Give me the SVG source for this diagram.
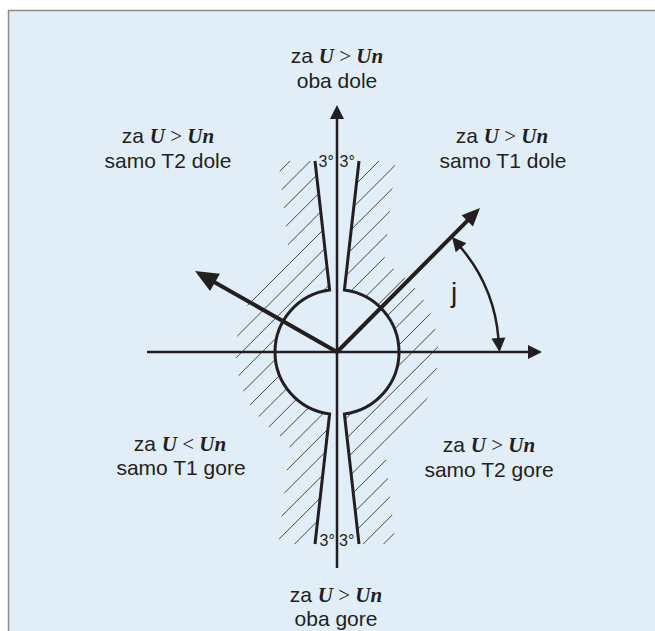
<svg xmlns="http://www.w3.org/2000/svg" width="655" height="631" viewBox="0 0 655 631">
<style>
.t{font-family:"Liberation Sans",Arial,sans-serif;font-size:21px;fill:#231f20;text-anchor:middle}
.u{font-family:"Liberation Serif","Times New Roman",serif;font-weight:bold;font-style:italic}
.s{font-family:"Liberation Serif","Times New Roman",serif}
.deg{font-family:"Liberation Sans",Arial,sans-serif;font-size:16px;fill:#231f20}
.axis{stroke:#231f20;stroke-width:2.5;fill:none}
.vec{stroke:#231f20;stroke-width:4;fill:none}
.key{stroke:#231f20;stroke-width:3;fill:none;stroke-linejoin:miter}
.hatch line{stroke:#333;stroke-width:0.9}
</style>
<defs>
<marker id="head" markerUnits="userSpaceOnUse" orient="auto" refX="0" refY="0" markerWidth="20" markerHeight="20" overflow="visible"><path d="M-1,-7 L13,0 L-1,7 Z" fill="#231f20"/></marker>
<marker id="headS" markerUnits="userSpaceOnUse" orient="auto-start-reverse" refX="0" refY="0" markerWidth="20" markerHeight="20" overflow="visible"><path d="M-1,-7 L13,0 L-1,7 Z" fill="#231f20"/></marker>
<marker id="vecL" markerUnits="userSpaceOnUse" orient="auto" refX="0" refY="0" markerWidth="30" markerHeight="30" overflow="visible"><path d="M-1,-10 L22,0 L-1,10 Z" fill="#231f20"/></marker>
<marker id="vecR" markerUnits="userSpaceOnUse" orient="auto" refX="0" refY="0" markerWidth="30" markerHeight="30" overflow="visible"><path d="M-1,-8 L17,0 L-1,8 Z" fill="#231f20"/></marker>
<clipPath id="hatchArea"><path clip-rule="evenodd" d="M278.5,161 L290,263 A101,101 0 0 0 290,442 L278.5,544 L395.5,544 L384,442 A101,101 0 0 0 384,263 L395.5,161 Z M315,161 L329.6,290 A62.5,62.5 0 0 0 329.6,414 L315,544 L359,544 L344.4,414 A62.5,62.5 0 0 0 344.4,290 L359,161 Z"/></clipPath>
<clipPath id="halfL"><rect x="0" y="0" width="337" height="631"/></clipPath>
<clipPath id="halfR"><rect x="337" y="0" width="318" height="631"/></clipPath>
</defs>
<rect x="0" y="0" width="655" height="631" fill="#ffffff"/>
<rect x="8.5" y="10.5" width="660" height="640" fill="#e1eef7" stroke="#8c8c8c" stroke-width="1.5"/>

<g id="hatching" class="hatch">
<g clip-path="url(#halfL)"><g clip-path="url(#hatchArea)">
<line x1="351" y1="100" x2="-149" y2="600"/>
<line x1="371.4" y1="100" x2="-128.6" y2="600"/>
<line x1="391.8" y1="100" x2="-108.2" y2="600"/>
<line x1="412.2" y1="100" x2="-87.8" y2="600"/>
<line x1="432.6" y1="100" x2="-67.4" y2="600"/>
<line x1="453" y1="100" x2="-47" y2="600"/>
<line x1="473.4" y1="100" x2="-26.6" y2="600"/>
<line x1="493.8" y1="100" x2="-6.2" y2="600"/>
<line x1="514.2" y1="100" x2="14.2" y2="600"/>
<line x1="534.6" y1="100" x2="34.6" y2="600"/>
<line x1="555" y1="100" x2="55" y2="600"/>
<line x1="575.4" y1="100" x2="75.4" y2="600"/>
<line x1="595.8" y1="100" x2="95.8" y2="600"/>
<line x1="616.2" y1="100" x2="116.2" y2="600"/>
<line x1="636.6" y1="100" x2="136.6" y2="600"/>
<line x1="657" y1="100" x2="157" y2="600"/>
<line x1="677.4" y1="100" x2="177.4" y2="600"/>
<line x1="697.8" y1="100" x2="197.8" y2="600"/>
<line x1="718.2" y1="100" x2="218.2" y2="600"/>
<line x1="738.6" y1="100" x2="238.6" y2="600"/>
<line x1="759" y1="100" x2="259" y2="600"/>
<line x1="779.4" y1="100" x2="279.4" y2="600"/>
</g></g>
<g clip-path="url(#halfR)"><g clip-path="url(#hatchArea)">
<line x1="440" y1="100" x2="-60" y2="600"/>
<line x1="460.4" y1="100" x2="-39.6" y2="600"/>
<line x1="480.8" y1="100" x2="-19.2" y2="600"/>
<line x1="501.2" y1="100" x2="1.2" y2="600"/>
<line x1="521.6" y1="100" x2="21.6" y2="600"/>
<line x1="542" y1="100" x2="42" y2="600"/>
<line x1="562.4" y1="100" x2="62.4" y2="600"/>
<line x1="582.8" y1="100" x2="82.8" y2="600"/>
<line x1="603.2" y1="100" x2="103.2" y2="600"/>
<line x1="623.6" y1="100" x2="123.6" y2="600"/>
<line x1="644" y1="100" x2="144" y2="600"/>
<line x1="664.4" y1="100" x2="164.4" y2="600"/>
<line x1="684.8" y1="100" x2="184.8" y2="600"/>
<line x1="705.2" y1="100" x2="205.2" y2="600"/>
<line x1="725.6" y1="100" x2="225.6" y2="600"/>
<line x1="746" y1="100" x2="246" y2="600"/>
<line x1="766.4" y1="100" x2="266.4" y2="600"/>
<line x1="786.8" y1="100" x2="286.8" y2="600"/>
<line x1="807.2" y1="100" x2="307.2" y2="600"/>
<line x1="827.6" y1="100" x2="327.6" y2="600"/>
</g></g>
</g>

<g id="keyhole">
<path class="key" d="M315,161 L329.6,290 A62.5,62.5 0 0 0 329.6,414 L315,544"/>
<path class="key" d="M359,161 L344.4,290 A62.5,62.5 0 0 1 344.4,414 L359,544"/>
</g>

<g id="connectors">
<line class="axis" x1="337" y1="568" x2="337" y2="118" marker-end="url(#head)"/>
<line class="axis" x1="147" y1="352" x2="529" y2="352" marker-end="url(#head)"/>
<line class="vec" x1="337" y1="352" x2="468" y2="220.1" marker-end="url(#vecR)"/>
<line class="vec" x1="337" y1="352" x2="214.1" y2="281.9" marker-end="url(#vecL)"/>
<path class="axis" d="M460.4,247 A162,162 0 0 1 498.5,339" marker-start="url(#headS)" marker-end="url(#head)"/>
</g>

<g id="angle-label"><text x="454" y="302" font-family="Liberation Sans, Arial, sans-serif" font-size="28" fill="#231f20" text-anchor="middle">j</text></g>

<g id="deg-top">
<text class="deg" x="318.5" y="167">3°</text>
<text class="deg" x="339.5" y="167">3°</text>
</g>
<g id="deg-bottom">
<text class="deg" x="319.5" y="546">3°</text>
<text class="deg" x="339" y="546">3°</text>
</g>

<g id="label-top">
<text class="t" x="337" y="63">za <tspan class="u">U</tspan><tspan class="s"> &gt; </tspan><tspan class="u">Un</tspan></text>
<text class="t" x="337" y="88">oba dole</text>
</g>
<g id="label-upper-left">
<text class="t" x="168" y="143">za <tspan class="u">U</tspan><tspan class="s"> &gt; </tspan><tspan class="u">Un</tspan></text>
<text class="t" x="168" y="168">samo T2 dole</text>
</g>
<g id="label-upper-right">
<text class="t" x="502" y="143">za <tspan class="u">U</tspan><tspan class="s"> &gt; </tspan><tspan class="u">Un</tspan></text>
<text class="t" x="503" y="168">samo T1 dole</text>
</g>
<g id="label-lower-left">
<text class="t" x="180" y="451">za <tspan class="u">U</tspan><tspan class="s"> &lt; </tspan><tspan class="u">Un</tspan></text>
<text class="t" x="181" y="475">samo T1 gore</text>
</g>
<g id="label-lower-right">
<text class="t" x="489" y="452">za <tspan class="u">U</tspan><tspan class="s"> &gt; </tspan><tspan class="u">Un</tspan></text>
<text class="t" x="489" y="477">samo T2 gore</text>
</g>
<g id="label-bottom">
<text class="t" x="336" y="602">za <tspan class="u">U</tspan><tspan class="s"> &gt; </tspan><tspan class="u">Un</tspan></text>
<text class="t" x="336" y="626">oba gore</text>
</g>
</svg>
